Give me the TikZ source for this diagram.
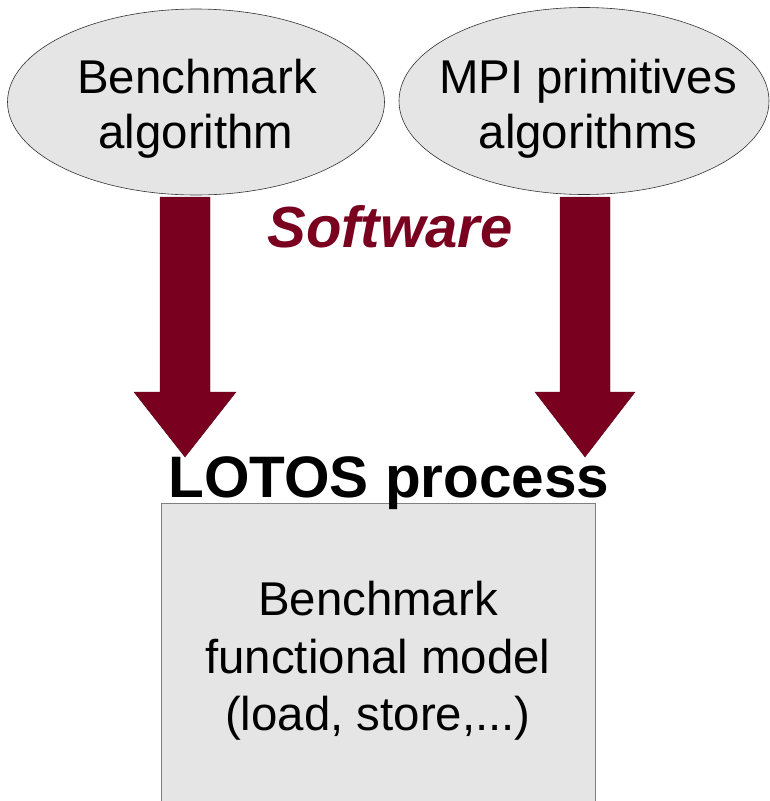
\documentclass[tikz,border=0pt]{standalone}
\usepackage{fontspec}
\setmainfont{Liberation Sans}
\usetikzlibrary{shapes.geometric}
\definecolor{wine}{RGB}{122,0,32}
\definecolor{panel}{RGB}{229,229,229}
\definecolor{rim}{RGB}{128,128,128}
\begin{document}
\begin{tikzpicture}[x=1pt,y=-1pt,
  bubble/.style={ellipse, draw=black!80, line width=0.6pt, fill=panel, inner sep=0pt},
  lbl/.style={anchor=base, inner sep=0pt, font=\fontsize{47.4}{55}\selectfont},
  headline/.style={anchor=base, inner sep=0pt, font=\fontsize{58.5}{66}\selectfont\bfseries},
  modelbox/.style={rectangle, draw=rim, line width=0.8pt, fill=panel, inner sep=0pt},
  blockarrow/.style={fill=wine, draw=wine!70!black, line width=0.4pt, line join=miter}]
\useasboundingbox (0,0) rectangle (770,801);

% source ellipses
\node[bubble, minimum width=377pt, minimum height=186pt] (bench) at (196,102) {};
\node[bubble, minimum width=370pt, minimum height=187pt] (mpi) at (584,101) {};
\node[lbl] (benchA) at (197,93) {Benchmark};
\node[lbl] (benchB) at (196,148) {algorithm};
\node[lbl] (mpiA) at (588,93) {MPI primitives};
\node[lbl] (mpiB) at (588,148) {algorithms};

% block arrows down to the LOTOS process
\coordinate (la) at (185,197);
\coordinate (lb) at (185,457);
\coordinate (ra) at (585,197);
\coordinate (rb) at (585,457);
\draw[blockarrow] (la) ++(-25,0) -- ++(50,0) -- ++(0,195) -- ++(26,0) -- (lb)
  -- ++(-51,-65) -- ++(26,0) -- cycle;
\draw[blockarrow] (ra) ++(-25,0) -- ++(50,0) -- ++(0,195) -- ++(25,0) -- (rb)
  -- ++(-50,-65) -- ++(25,0) -- cycle;

\node[anchor=base, inner sep=0pt, text=wine,
  font=\fontsize{58}{66}\selectfont\bfseries\itshape] (soft) at (390,247) {Software};

% functional model
\node[modelbox, minimum width=434pt, minimum height=310pt, anchor=north west] (model) at (161,503) {};
\node[headline] (lotos) at (389,497) {LOTOS process};
\node[lbl] (mA) at (378,615) {Benchmark};
\node[lbl] (mB) at (378,673) {functional model};
\node[lbl] (mC) at (378,730) {(load, store,...)};
\end{tikzpicture}
\end{document}
